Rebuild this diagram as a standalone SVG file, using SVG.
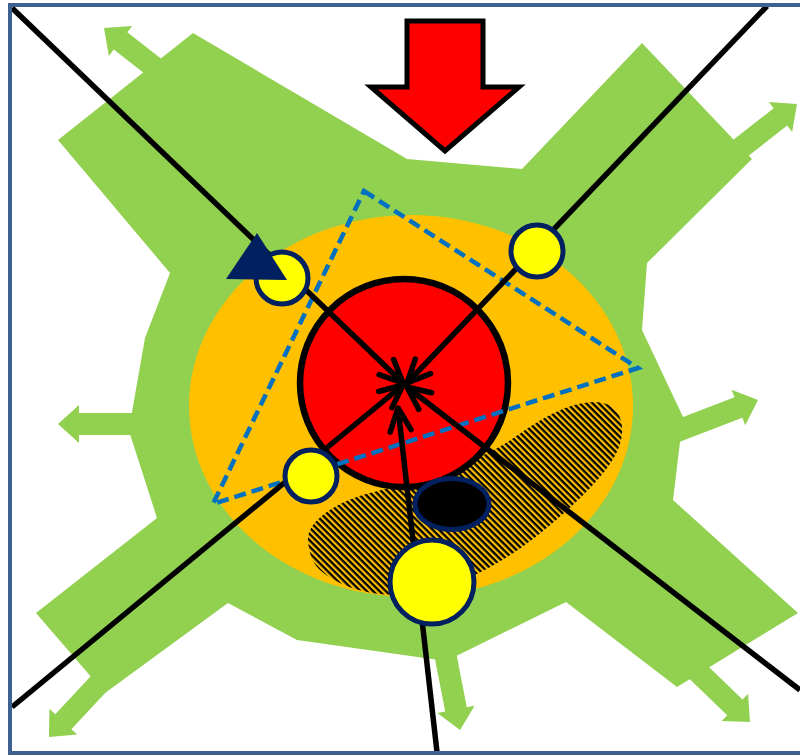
<svg xmlns="http://www.w3.org/2000/svg" xmlns:xlink="http://www.w3.org/1999/xlink" width="800" height="755" viewBox="0 0 800 755">
  <style>
    .green { fill: #92D050; }
    .ln { fill: none; stroke: #000; stroke-width: 5.5; marker-end: url(#ah); }
    .node { fill: #FFFF00; stroke: #002060; stroke-width: 5; }
  </style>
  <defs>
    <marker id="ah" markerUnits="userSpaceOnUse" markerWidth="60" markerHeight="60" viewBox="-30 -30 60 60" refX="0" refY="0" orient="auto" overflow="visible">
      <path d="M-23,-10.5 L0,0 L-23,10.5" fill="none" stroke="#000" stroke-width="5.5" stroke-linecap="round" stroke-linejoin="round"/>
    </marker>
    <polygon id="garrow" points="-90,-11 -21,-11 -21,-19 0,0 -21,19 -21,11 -90,11"/>
    <pattern id="hatch" patternUnits="userSpaceOnUse" width="4.5" height="4.5" patternTransform="rotate(45)">
      <rect x="0" y="0" width="4.5" height="2.3" fill="#000"/>
    </pattern>
  </defs>

  <rect x="0" y="0" width="800" height="755" fill="#fff"/>

  <g id="green-zone" class="green">
    <use xlink:href="#garrow" transform="translate(104,28) rotate(218)"/>
    <use xlink:href="#garrow" transform="translate(797,104) rotate(-38)"/>
    <use xlink:href="#garrow" transform="translate(758,400) rotate(-21)"/>
    <use xlink:href="#garrow" transform="translate(750,722) rotate(44)"/>
    <use xlink:href="#garrow" transform="translate(460,730) rotate(79)"/>
    <use xlink:href="#garrow" transform="translate(49,737) rotate(133)"/>
    <use xlink:href="#garrow" transform="translate(58,424) rotate(180)"/>
    <polygon points="193,33 407,159 522,169 642,43 752,159 647,263 642,330 683,417 673,500 798,613 677,687 566,602 446,661 297,640 228,603 105,693 36,613 157,518 130,434 132,412 145,338 170,273 58,140"/>
  </g>

  <g id="orange-zone">
    <ellipse cx="411" cy="406" rx="222" ry="191" fill="#FFC000"/>
  </g>

  <g id="hatched-zone">
    <path d="M308,541 C306,522 335,502 370,493 C420,480 480,462 515,437 C545,416 570,402 595,402 C615,402 626,418 621,440 C616,465 585,495 555,521 C520,552 470,585 415,594 C375,598 340,588 320,570 C311,562 309,550 308,541 Z" fill="url(#hatch)"/>
  </g>

  <g id="core">
    <circle cx="404" cy="383" r="104" fill="#FF0000" stroke="#000" stroke-width="6.5"/>
  </g>

  <g id="triangle-zone">
    <polygon points="364,191 638,368 213,504" fill="none" stroke="#0070C0" stroke-width="4.5" stroke-dasharray="12 6"/>
  </g>

  <g id="connectors">
    <line class="ln" x1="12" y1="8" x2="403" y2="383"/>
    <line class="ln" x1="767" y1="6" x2="407" y2="383"/>
    <line class="ln" x1="12" y1="707" x2="403" y2="385"/>
    <line class="ln" x1="800" y1="690" x2="407" y2="387"/>
    <line class="ln" x1="437" y1="752" x2="398" y2="408"/>
  </g>

  <g id="red-arrow">
    <polygon points="407,21 483,21 483,87 519,87 445,151 371,87 407,87" fill="#FF0000" stroke="#000" stroke-width="5"/>
  </g>

  <g id="node-ul"><circle class="node" cx="282" cy="278" r="26"/></g>
  <g id="node-ur"><circle class="node" cx="537" cy="251" r="26"/></g>
  <g id="node-ll"><circle class="node" cx="311" cy="476" r="26"/></g>
  <g id="node-bottom"><circle class="node" cx="432" cy="582" r="42"/></g>
  <g id="black-ellipse"><ellipse cx="452" cy="504" rx="37" ry="25.5" fill="#000" stroke="#002060" stroke-width="5"/></g>
  <g id="navy-triangle"><polygon points="257,233 287,280 226,279" fill="#002060"/></g>

  <g id="frame">
    <rect x="10" y="5" width="796" height="748" fill="none" stroke="#3F618F" stroke-width="4"/>
  </g>
</svg>
